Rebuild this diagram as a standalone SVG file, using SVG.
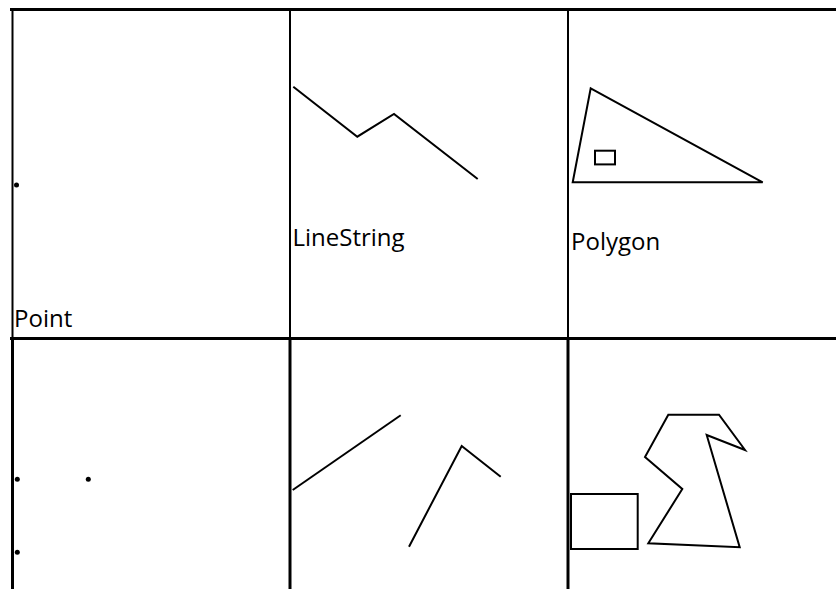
<svg xmlns="http://www.w3.org/2000/svg" width="836" height="589" viewBox="0 0 836 589">
<style>
.grid{stroke:#000;fill:none}
.shape{stroke:#000;stroke-width:2;fill:none;stroke-linejoin:miter}
.pt{fill:#000}
.lbl{font-family:"Open Sans","Liberation Sans",sans-serif;font-size:24px;fill:#000}
</style>
<rect x="0" y="0" width="836" height="589" fill="#fff"/>
<g id="grid">
<line class="grid" x1="10" y1="9.5" x2="836" y2="9.5" stroke-width="3"/>
<line class="grid" x1="10" y1="338.5" x2="836" y2="338.5" stroke-width="3"/>
<line class="grid" x1="12.5" y1="8" x2="12.5" y2="338" stroke-width="2"/>
<line class="grid" x1="12.5" y1="338" x2="12.5" y2="589" stroke-width="3"/>
<line class="grid" x1="290" y1="8" x2="290" y2="338" stroke-width="2"/>
<line class="grid" x1="290" y1="338" x2="290" y2="589" stroke-width="3"/>
<line class="grid" x1="568" y1="8" x2="568" y2="338" stroke-width="2"/>
<line class="grid" x1="568" y1="338" x2="568" y2="589" stroke-width="3"/>
</g>
<g id="point">
<circle class="pt" cx="16.5" cy="185" r="2.5"/>
<text class="lbl" x="14" y="326.5">Point</text>
</g>
<g id="linestring">
<polyline class="shape" points="293.3,86.7 357.3,136.7 394,114 477.7,179"/>
<text class="lbl" x="292.5" y="246">LineString</text>
</g>
<g id="polygon">
<polygon class="shape" points="590.7,88.3 762.7,182.3 572.7,182.3"/>
<rect class="shape" x="595" y="150.7" width="20" height="13.7"/>
<text class="lbl" x="571" y="250">Polygon</text>
</g>
<g id="multipoint">
<circle class="pt" cx="17.3" cy="479.3" r="2.5"/>
<circle class="pt" cx="88.3" cy="479.3" r="2.5"/>
<circle class="pt" cx="17.3" cy="552.3" r="2.5"/>
</g>
<g id="multilinestring">
<polyline class="shape" points="292.7,490 400.7,415.3"/>
<polyline class="shape" points="409,546.7 461.7,446 500.7,476.7"/>
</g>
<g id="multipolygon">
<rect class="shape" x="571" y="494" width="66.7" height="55"/>
<polygon class="shape" points="668.3,414.7 719,414.7 745,450 706.7,435 739.7,547.3 648.3,543.3 682.3,489 645,457"/>
</g>
</svg>
